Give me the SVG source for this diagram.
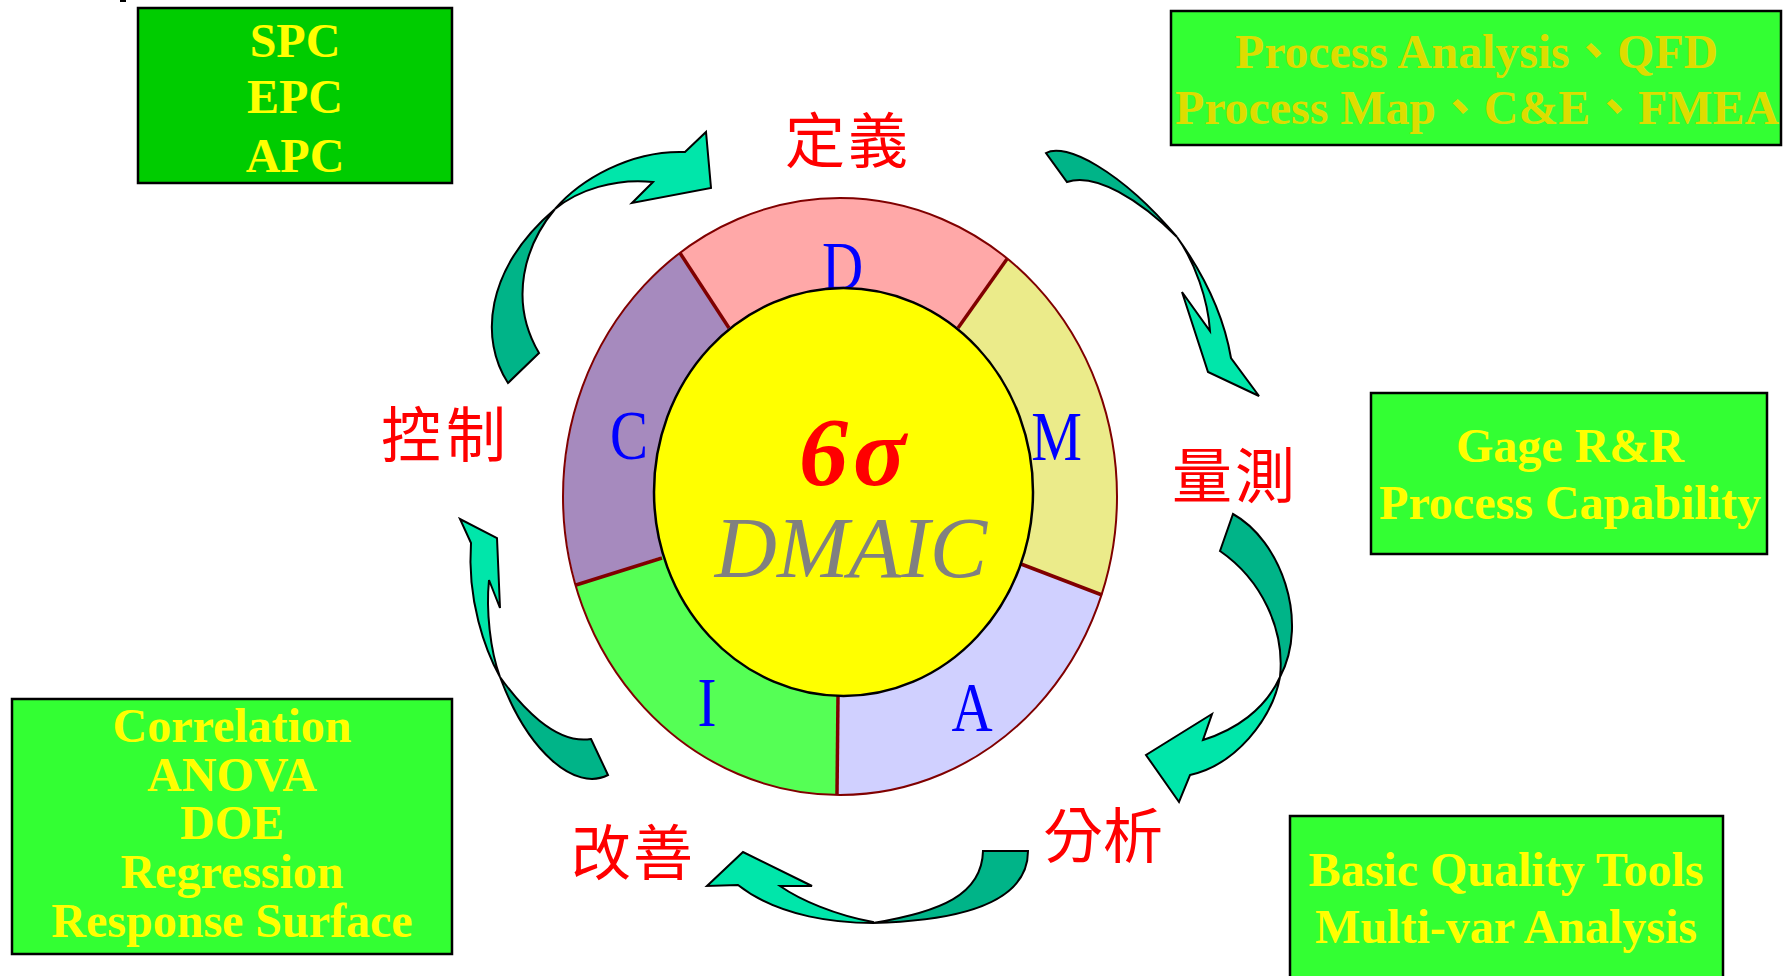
<svg xmlns="http://www.w3.org/2000/svg" width="1783" height="976" viewBox="0 0 1783 976">
<style>
.box{stroke:#000;stroke-width:2.5}
.bt{font-family:"Liberation Serif","Times New Roman","Noto Sans CJK TC",serif;font-weight:bold;font-size:48px;fill:#FFFF00;text-anchor:middle}
.cjk{font-family:"Noto Sans CJK TC","Noto Sans CJK SC",sans-serif;font-size:60px;fill:#FF0000}
.lbl{font-family:"Liberation Serif","Times New Roman",serif;font-size:57px;fill:#0000FF;text-anchor:middle}
.dark{fill:#00B488;stroke:#000;stroke-width:2;stroke-linejoin:miter}
.bright{fill:#00E6AA;stroke:#000;stroke-width:2;stroke-linejoin:miter}
.div{stroke:#800000;stroke-width:3.5}
</style>
<rect x="0" y="0" width="1783" height="976" fill="#FFFFFF"/>
<rect x="120" y="0" width="6" height="2" fill="#000"/>

<g id="node-control-tools">
<rect class="box" x="138" y="8" width="314" height="175" fill="#00CC00"/>
<text class="bt" x="295" y="57">SPC</text>
<text class="bt" x="295" y="113">EPC</text>
<text class="bt" x="295" y="172">APC</text>
</g>

<g id="node-define-tools">
<rect class="box" x="1171" y="11" width="610" height="134" fill="#33FF33"/>
<text class="bt" x="1476.5" y="68" style="fill:#DDDD00" textLength="483" lengthAdjust="spacingAndGlyphs">Process Analysis、QFD</text>
<text class="bt" x="1477" y="124" style="fill:#DDDD00" textLength="604" lengthAdjust="spacingAndGlyphs">Process Map、C&amp;E、FMEA</text>
</g>

<g id="node-measure-tools">
<rect class="box" x="1371" y="393" width="396" height="161" fill="#33FF33"/>
<text class="bt" x="1570" y="462">Gage R&amp;R</text>
<text class="bt" x="1570" y="519">Process Capability</text>
</g>

<g id="node-analyze-tools">
<rect class="box" x="1290" y="816" width="433" height="200" fill="#33FF33"/>
<text class="bt" x="1506" y="886">Basic Quality Tools</text>
<text class="bt" x="1506" y="943">Multi-var Analysis</text>
</g>

<g id="node-improve-tools">
<rect class="box" x="12" y="699" width="440" height="255" fill="#33FF33"/>
<text class="bt" x="232" y="742">Correlation</text>
<text class="bt" x="232" y="791">ANOVA</text>
<text class="bt" x="232" y="839">DOE</text>
<text class="bt" x="232" y="888">Regression</text>
<text class="bt" x="232" y="937">Response Surface</text>
</g>

<g id="node-dmaic">
<path d="M840,496.5 L680,253 A277,298.5 0 0 1 1007,259 Z" fill="#FFA8A8"/>
<path d="M840,496.5 L1007,259 A277,298.5 0 0 1 1102,595 Z" fill="#EBEB8A"/>
<path d="M840,496.5 L1102,595 A277,298.5 0 0 1 837,795 Z" fill="#D0D0FF"/>
<path d="M840,496.5 L837,795 A277,298.5 0 0 1 576,585 Z" fill="#55FF55"/>
<path d="M840,496.5 L576,585 A277,298.5 0 0 1 680,253 Z" fill="#A68ABE"/>
<ellipse cx="840" cy="496.5" rx="277" ry="298.5" fill="none" stroke="#800000" stroke-width="2"/>
<line class="div" x1="680" y1="253" x2="729" y2="328"/>
<line class="div" x1="1007" y1="259" x2="958" y2="328"/>
<line class="div" x1="576" y1="585" x2="662" y2="558"/>
<line class="div" x1="1102" y1="595" x2="1021" y2="564"/>
<line class="div" x1="837" y1="795" x2="838" y2="696"/>
<text class="lbl" transform="translate(842.5,290) scale(1,1.24)">D</text>
<text class="lbl" transform="translate(1056.5,460) scale(1,1.24)">M</text>
<text class="lbl" transform="translate(972,731) scale(1,1.24)">A</text>
<text class="lbl" transform="translate(707,726) scale(1,1.24)">I</text>
<text class="lbl" transform="translate(629,459) scale(1,1.24)">C</text>
<ellipse cx="843.5" cy="492" rx="189.5" ry="204" fill="#FFFF00" stroke="#000" stroke-width="2.5"/>
<text x="855" y="485" font-family="Liberation Serif,'Times New Roman',serif" font-weight="bold" font-style="italic" font-size="98" letter-spacing="5" fill="#FF0000" text-anchor="middle">6σ</text>
<text x="851" y="577" font-family="Liberation Serif,'Times New Roman',serif" font-style="italic" font-size="86" fill="#808080" text-anchor="middle">DMAIC</text>
</g>

<g id="node-label-define"><text class="cjk" x="785 848" y="163">定義</text></g>
<g id="node-label-measure"><text class="cjk" x="1172 1235" y="498">量測</text></g>
<g id="node-label-analyze"><text class="cjk" x="1043 1103" y="858">分析</text></g>
<g id="node-label-improve"><text class="cjk" x="571 633" y="875">改善</text></g>
<g id="node-label-control"><text class="cjk" x="381 446" y="457">控制</text></g>

<g id="connectors">
<g id="arrow-control-define">
<path class="dark" d="M508,383 C480,340 484,270 555,209 C525,245 508,300 539,353 Z"/>
<path class="bright" d="M555,209 C580,180 630,150 685,152 L706,132 L711,188 L632,203 L653,182 C615,178 578,190 555,209 Z"/>
</g>
<g id="arrow-define-measure">
<path class="dark" d="M1046,153 C1065,142 1120,170 1177,237 C1140,200 1095,172 1067,182 Z"/>
<path class="bright" d="M1177,237 C1195,262 1222,305 1231,358 L1259,396 L1208,372 L1182,292 L1210,331 C1208,300 1195,262 1177,237 Z"/>
</g>
<g id="arrow-measure-analyze">
<path class="dark" d="M1233,514 C1280,540 1310,620 1280,677 C1285,630 1262,580 1220,551 Z"/>
<path class="bright" d="M1280,677 C1272,720 1235,765 1190,775 L1179,802 L1146,755 L1212,714 L1203,740 C1235,730 1265,710 1280,677 Z"/>
</g>
<g id="arrow-analyze-improve">
<path class="dark" d="M983,851 L1028,851 C1028,890 990,920 873,923 C940,912 982,895 983,851 Z"/>
<path class="bright" d="M873,923 C840,923 780,918 738,885 L707,886 L743,852 L812,886 L780,886 C800,900 835,915 873,922 Z"/>
</g>
<g id="arrow-improve-control">
<path class="dark" d="M591,739 L608,775 C575,792 528,752 500,677 C520,705 555,745 591,739 Z"/>
<path class="bright" d="M500,677 C485,650 467,600 471,543 L460,519 L497,538 L500,608 L489,580 C486,610 490,650 500,677 Z"/>
</g>
</g>
</svg>
